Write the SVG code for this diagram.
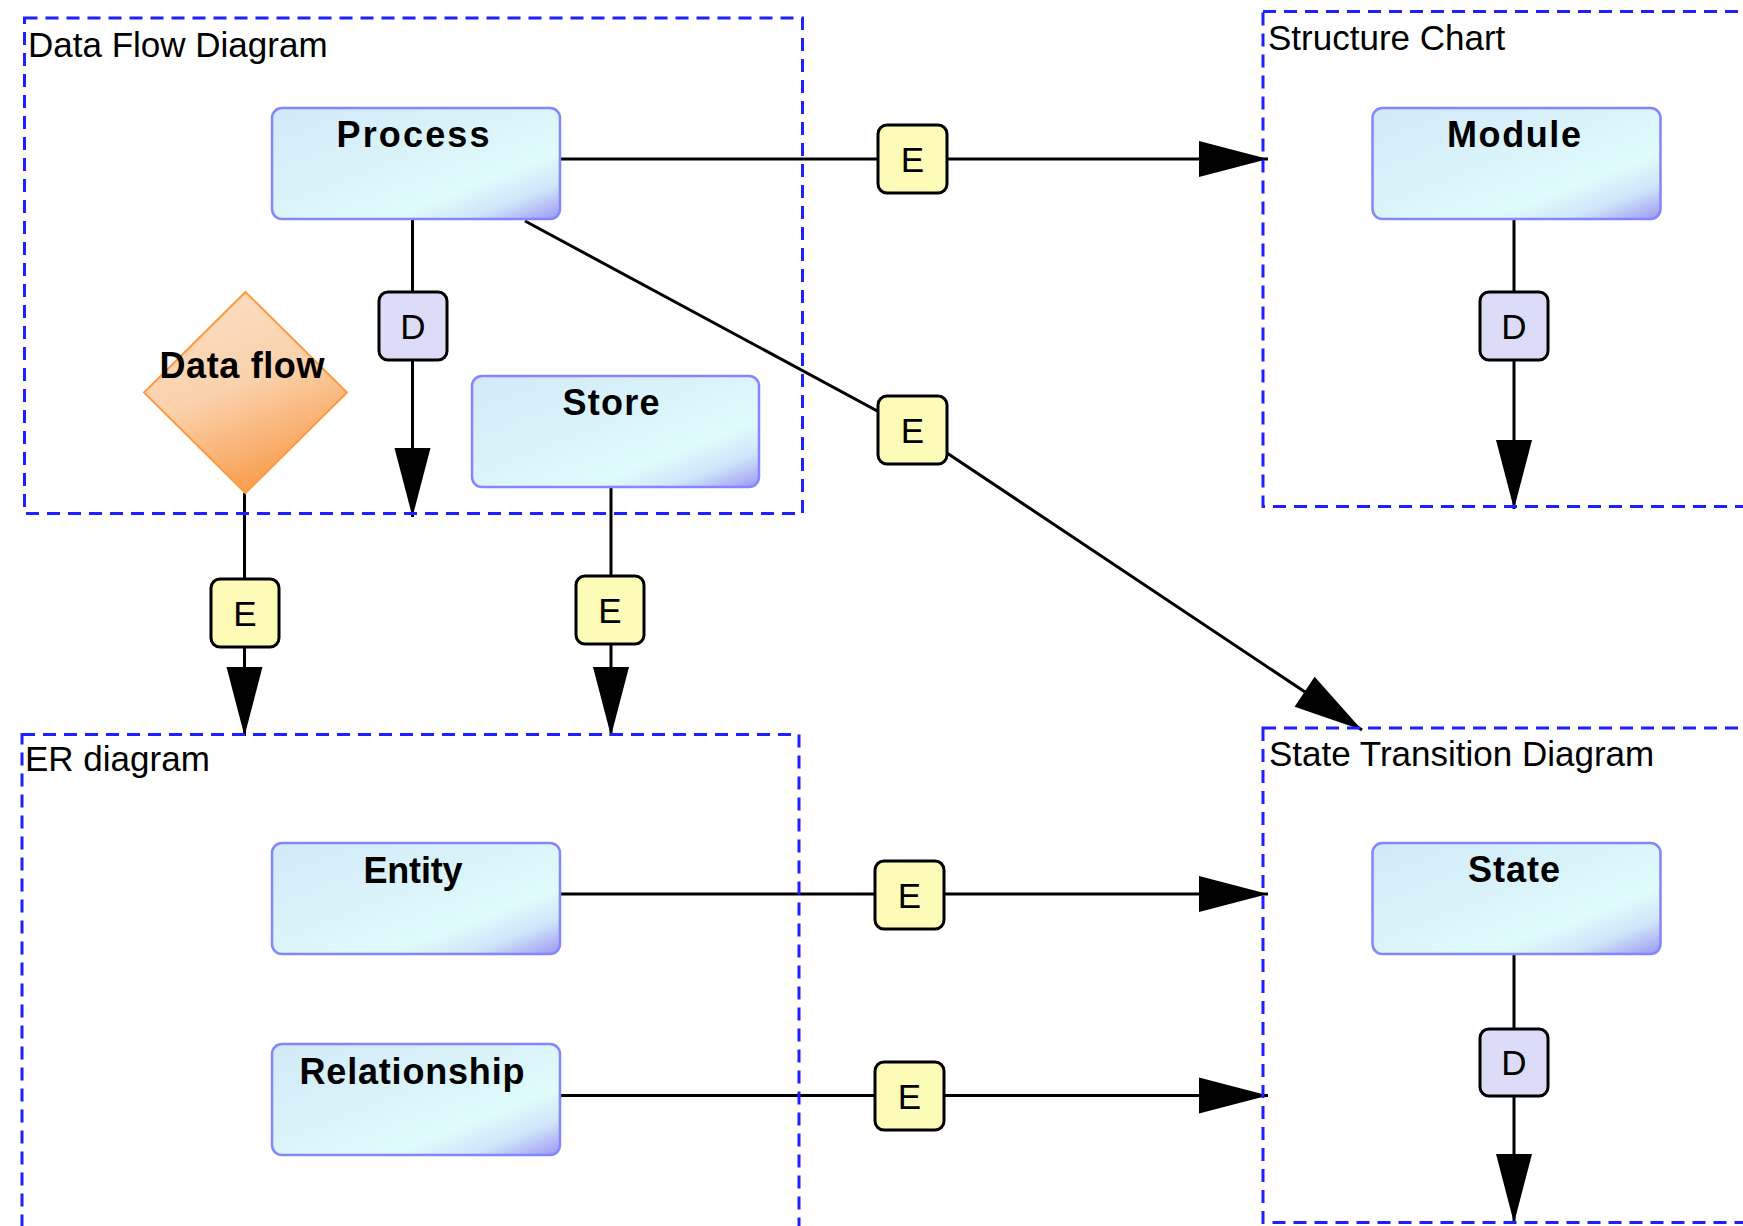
<svg xmlns="http://www.w3.org/2000/svg" width="1743" height="1226" viewBox="0 0 1743 1226">
  <defs>
    <linearGradient id="nodeFill" x1="0" y1="0" x2="1" y2="1">
      <stop offset="0" stop-color="#d2e9f8"/>
      <stop offset="0.5" stop-color="#dbf5fa"/>
      <stop offset="0.7" stop-color="#e0fbfb"/>
      <stop offset="0.84" stop-color="#cfe6f9"/>
      <stop offset="1" stop-color="#9b98f3"/>
    </linearGradient>
    <linearGradient id="diamondFill" x1="0.3" y1="0" x2="0.7" y2="1">
      <stop offset="0" stop-color="#fbdcc2"/>
      <stop offset="0.45" stop-color="#fad2ac"/>
      <stop offset="1" stop-color="#f89540"/>
    </linearGradient>
    <marker id="arrow" markerUnits="userSpaceOnUse" markerWidth="72" markerHeight="40" viewBox="0 0 72 40" refX="70" refY="20" orient="auto">
      <path d="M1,2 L70,20 L1,38 Z" fill="#000"/>
    </marker>
    <style>
      .frame { fill: none; stroke: #1f1fff; stroke-width: 3; stroke-dasharray: 13 8; }
      .frameTitle { font-family: "Liberation Sans", Arial, sans-serif; font-size: 35px; fill: #000; }
      .node { fill: url(#nodeFill); stroke: #8585ff; stroke-width: 2.5; }
      .nodeLabel { font-family: "Liberation Sans", Arial, sans-serif; font-size: 36px; font-weight: bold; fill: #000; text-anchor: middle; }
      .link { fill: none; stroke: #000; stroke-width: 3; marker-end: url(#arrow); }
      .badgeE { fill: #fdfbb8; stroke: #000; stroke-width: 3; }
      .badgeD { fill: #dcdcf8; stroke: #000; stroke-width: 3; }
      .badgeText { font-family: "Liberation Sans", Arial, sans-serif; font-size: 35px; fill: #000; text-anchor: middle; }
    </style>
  </defs>

  <rect width="1743" height="1226" fill="#fff"/>

  <!-- connectors with their E / D labels -->
  <g id="connectors">
    <line class="link" x1="561" y1="159" x2="1268" y2="159"/>
    <polyline class="link" points="525,221 912.5,430 1362,730"/>
    <line class="link" x1="412.5" y1="219" x2="412.5" y2="517"/>
    <line class="link" x1="244.5" y1="493" x2="244.5" y2="736"/>
    <line class="link" x1="611" y1="487" x2="611" y2="736"/>
    <line class="link" x1="561" y1="894" x2="1268" y2="894"/>
    <line class="link" x1="561" y1="1095.5" x2="1268" y2="1095.5"/>
    <line class="link" x1="1514" y1="219" x2="1514" y2="509"/>
    <line class="link" x1="1514" y1="954" x2="1514" y2="1223"/>

    <g id="label-process-module">
      <rect class="badgeE" x="878" y="125" width="69" height="68" rx="9"/>
      <text class="badgeText" x="912.5" y="171.5">E</text>
    </g>
    <g id="label-process-state">
      <rect class="badgeE" x="878" y="396" width="69" height="68" rx="9"/>
      <text class="badgeText" x="912.5" y="442.5">E</text>
    </g>
    <g id="label-process-down">
      <rect class="badgeD" x="379" y="292" width="68" height="68" rx="9"/>
      <text class="badgeText" x="413" y="338.5">D</text>
    </g>
    <g id="label-dataflow-er">
      <rect class="badgeE" x="211" y="579" width="68" height="68" rx="9"/>
      <text class="badgeText" x="245" y="625.5">E</text>
    </g>
    <g id="label-store-er">
      <rect class="badgeE" x="576" y="576" width="68" height="68" rx="9"/>
      <text class="badgeText" x="610" y="622.5">E</text>
    </g>
    <g id="label-entity-state">
      <rect class="badgeE" x="875" y="861" width="69" height="68" rx="9"/>
      <text class="badgeText" x="909.5" y="907.5">E</text>
    </g>
    <g id="label-relationship-state">
      <rect class="badgeE" x="875" y="1062" width="69" height="68" rx="9"/>
      <text class="badgeText" x="909.5" y="1108.5">E</text>
    </g>
    <g id="label-module-down">
      <rect class="badgeD" x="1480" y="292" width="68" height="68" rx="9"/>
      <text class="badgeText" x="1514" y="338.5">D</text>
    </g>
    <g id="label-state-down">
      <rect class="badgeD" x="1480" y="1029" width="68" height="67" rx="9"/>
      <text class="badgeText" x="1514" y="1075">D</text>
    </g>
  </g>

  <!-- diagram frames -->
  <g id="frame-dfd">
    <rect class="frame" x="24.5" y="18" width="778" height="495.5"/>
    <text class="frameTitle" x="28" y="56.5">Data Flow Diagram</text>
  </g>
  <g id="frame-structure-chart">
    <rect class="frame" x="1263" y="11.5" width="520" height="495"/>
    <text class="frameTitle" x="1268" y="50">Structure Chart</text>
  </g>
  <g id="frame-er">
    <rect class="frame" x="22" y="734.5" width="777" height="530"/>
    <text class="frameTitle" x="25" y="771">ER diagram</text>
  </g>
  <g id="frame-std">
    <rect class="frame" x="1263" y="728" width="520" height="494.5"/>
    <text class="frameTitle" x="1269" y="765.5">State Transition Diagram</text>
  </g>

  <!-- nodes -->
  <g id="node-process">
    <rect class="node" x="272" y="108" width="288" height="111" rx="10"/>
    <text class="nodeLabel" x="413" y="147" textLength="153" lengthAdjust="spacing">Process</text>
  </g>
  <g id="node-store">
    <rect class="node" x="472" y="376" width="287" height="111" rx="10"/>
    <text class="nodeLabel" x="611" y="414.5" textLength="97" lengthAdjust="spacing">Store</text>
  </g>
  <g id="node-dataflow">
    <polygon points="245.5,292 347,392.5 245.5,493 144,392.5" fill="url(#diamondFill)" stroke="#ff9a40" stroke-width="2"/>
    <text class="nodeLabel" x="242" y="377.5" textLength="165" lengthAdjust="spacing">Data flow</text>
  </g>
  <g id="node-module">
    <rect class="node" x="1372.5" y="108" width="288" height="111" rx="10"/>
    <text class="nodeLabel" x="1514" y="147" textLength="134" lengthAdjust="spacing">Module</text>
  </g>
  <g id="node-entity">
    <rect class="node" x="272" y="843" width="288" height="111" rx="10"/>
    <text class="nodeLabel" x="413" y="883" textLength="99" lengthAdjust="spacing">Entity</text>
  </g>
  <g id="node-relationship">
    <rect class="node" x="272" y="1044" width="288" height="111" rx="10"/>
    <text class="nodeLabel" x="412" y="1084" textLength="225" lengthAdjust="spacing">Relationship</text>
  </g>
  <g id="node-state">
    <rect class="node" x="1372.5" y="843" width="288" height="111" rx="10"/>
    <text class="nodeLabel" x="1514" y="882" textLength="92" lengthAdjust="spacing">State</text>
  </g>
</svg>
